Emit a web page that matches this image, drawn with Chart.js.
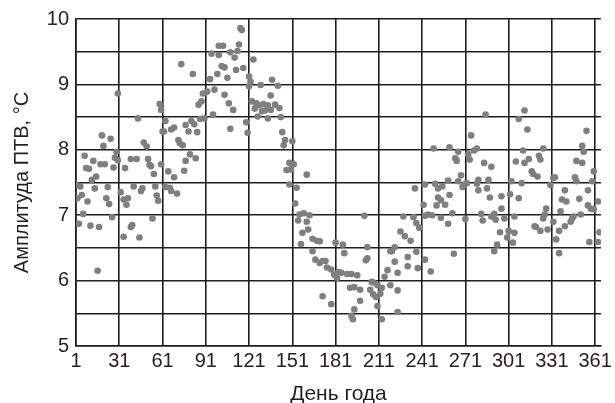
<!DOCTYPE html>
<html>
<head>
<meta charset="utf-8">
<script src="https://cdn.jsdelivr.net/npm/chart.js@4"></script>
<style>
  html, body { margin: 0; padding: 0; background: #fff; }
  #wrap { width: 615px; height: 403px; }
</style>
</head>
<body>
<div id="wrap"><canvas id="ampChart" width="615" height="403"></canvas></div>
<script>
// Day of year and amplitude (°C)
const days = [
    30, 59, 60, 44, 61, 19, 25, 20, 48, 50, 29, 7, 13, 18, 21, 8, 10, 27, 30, 28,
    39, 43, 35, 51, 52, 53, 60, 55, 15, 12, 1, 4, 14, 23, 32, 41, 47, 46, 56, 5,
    2, 22, 34, 37, 9, 24, 36, 57, 58, 6, 26, 3, 11, 17, 54, 39, 40, 34, 45, 16,
    63, 62, 69, 67, 77, 81, 83, 79, 85, 87, 90, 96, 108, 119, 120, 72, 73, 75, 80, 84,
    77, 65, 69, 76, 63, 66, 67, 71, 74, 82, 86, 88, 89, 92, 94, 97, 99, 104, 107, 110,
    106, 102, 104, 112, 117, 100, 103, 95, 100, 108, 111, 114, 113, 115, 116, 121, 122, 123,
    124, 121, 129, 137, 141, 136, 126, 128, 131, 134, 139, 142, 125, 130, 132, 136, 127, 134, 143, 144,
    146, 145, 151, 149, 152, 147, 150, 161, 149, 154, 153, 156, 159, 163, 155, 161, 162, 158, 165, 168,
    170, 157, 165, 167, 170, 172, 174, 175, 178, 181, 180, 172, 178,
    243, 236, 242, 201, 228, 235, 243, 237, 239, 226, 229, 233, 186, 187, 203, 202, 203, 222, 219, 220,
    237, 231, 243, 238, 231, 222, 224, 217, 215, 219, 224, 183, 185, 189, 192, 196, 191, 194, 198, 206,
    207, 210, 205, 207, 209, 213, 212, 198, 194, 192, 193, 210, 213, 224, 182,
    285, 275, 249, 260, 266, 264, 265, 273, 274, 277, 279, 284, 289, 306, 268, 259, 250, 266, 270, 272,
    269, 280, 279, 287, 286, 280, 252, 255, 260, 303, 302, 296, 288, 252, 254, 251, 257, 245, 248, 254,
    262, 259, 271, 282, 283, 289, 291, 292, 296, 298, 301, 300, 295, 304, 293, 291, 263, 247,
    312, 308, 314, 355, 352, 353, 311, 325, 315, 312, 322, 323, 348, 352, 360, 317, 318, 321, 333, 332,
    347, 348, 359, 310, 330, 340, 356, 308, 338, 341, 350, 363, 356, 358, 360, 327, 337, 326, 305, 346,
    351, 345, 344, 325, 332, 340, 319, 323, 320, 328, 336, 305, 334, 364, 357, 363, 336
];
const amplitude = [
    8.86, 8.70, 8.61, 8.48, 8.28, 8.22, 8.17, 8.06, 8.11, 8.05, 7.97, 7.91, 7.83, 7.78, 7.78, 7.72, 7.71, 7.73, 7.84, 7.88,
    7.86, 7.86, 7.72, 7.86, 7.77, 7.75, 7.78, 7.63, 7.59, 7.54, 7.47, 7.44, 7.41, 7.43, 7.35, 7.44, 7.41, 7.37, 7.44, 7.31,
    7.26, 7.26, 7.24, 7.26, 7.21, 7.17, 7.16, 7.30, 7.22, 7.02, 6.97, 6.87, 6.84, 6.82, 6.95, 6.82, 6.85, 6.67, 6.66, 6.15,
    8.44, 8.28, 8.34, 8.31, 8.38, 8.44, 8.39, 8.28, 8.27, 8.47, 8.48, 8.54, 8.32, 8.42, 8.26, 8.15, 8.10, 8.07, 7.93, 7.87,
    7.83, 7.67, 7.58, 7.68, 7.43, 7.42, 7.37, 7.33, 9.31, 9.16, 8.69, 8.74, 8.86, 8.89, 9.08, 8.92, 9.16, 8.84, 8.71, 8.61,
    9.10, 9.28, 9.26, 9.22, 9.25, 9.59, 9.59, 9.47, 9.45, 9.49, 9.41, 9.61, 9.51, 9.86, 9.83, 9.12, 9.04, 8.74,
    9.38, 8.97, 8.99, 9.07, 8.98, 8.83, 8.71, 8.68, 8.70, 8.68, 8.69, 8.64, 8.63, 8.59, 8.60, 8.61, 8.51, 8.48, 8.50, 8.27,
    8.15, 8.07, 8.13, 7.80, 7.78, 7.69, 7.70, 7.62, 7.47, 7.42, 7.18, 7.01, 7.03, 7.00, 6.92, 6.90, 6.78, 6.73, 6.64, 6.61,
    6.60, 6.56, 6.45, 6.32, 6.27, 6.30, 6.30, 6.20, 6.17, 6.58, 6.09, 5.76, 5.64,
    7.47, 7.41, 7.16, 6.99, 6.98, 6.97, 6.99, 6.88, 6.81, 6.75, 6.68, 6.61, 6.55, 6.42, 6.51, 6.31, 6.34, 6.51, 6.45, 6.45,
    6.44, 6.36, 6.32, 6.19, 6.22, 6.29, 6.12, 6.16, 6.06, 5.93, 5.85, 6.13, 6.12, 6.10, 6.10, 6.08, 5.89, 5.90, 5.86, 5.98,
    5.97, 5.93, 5.86, 5.79, 5.75, 5.89, 5.80, 5.69, 5.56, 5.46, 5.41, 5.61, 5.41, 5.52, 6.04,
    8.54, 8.22, 8.02, 8.04, 7.97, 7.87, 7.83, 7.93, 7.85, 7.99, 8.02, 7.80, 7.74, 7.82, 7.61, 7.53, 7.48, 7.52, 7.47, 7.49,
    7.43, 7.54, 7.48, 7.54, 7.41, 7.38, 7.41, 7.44, 7.31, 7.52, 7.32, 7.29, 7.27, 7.27, 7.23, 7.15, 7.16, 7.01, 7.00, 6.96,
    7.03, 6.87, 6.94, 7.02, 6.92, 6.98, 7.02, 6.93, 7.10, 6.95, 6.76, 6.66, 6.74, 6.58, 6.55, 6.45, 6.41, 6.14,
    8.60, 8.47, 8.31, 8.29, 8.06, 7.97, 7.99, 8.02, 7.86, 7.80, 7.91, 7.85, 7.83, 7.80, 7.67, 7.67, 7.63, 7.59, 7.58, 7.57,
    7.58, 7.52, 7.52, 7.49, 7.46, 7.38, 7.38, 7.26, 7.24, 7.21, 7.25, 7.21, 7.15, 7.10, 7.09, 7.10, 7.06, 7.01, 6.98, 6.98,
    7.01, 6.95, 6.90, 6.95, 6.90, 6.83, 6.83, 6.76, 6.82, 6.78, 6.76, 6.73, 6.63, 6.74, 6.59, 6.59, 6.42
];
const xTicks = [1, 31, 61, 91, 121, 151, 181, 211, 241, 271, 301, 331, 361];
const yTicks = [5, 5.5, 6, 6.5, 7, 7.5, 8, 8.5, 9, 9.5, 10];

const gridColor = '#1e1e1e';
const textColor = '#231f20';
const fontFamily = '"Liberation Sans", Arial, sans-serif';

const points = days.map((d, i) => ({ x: d, y: amplitude[i] }));

const ctx = document.getElementById('ampChart').getContext('2d');
new Chart(ctx, {
    type: 'scatter',
    data: {
        datasets: [{
            data: points,
            backgroundColor: '#7f7f7f',
            borderWidth: 0,
            pointRadius: 3.3
        }]
    },
    options: {
        responsive: false,
        animation: false,
        layout: { padding: { top: 19, right: 13, left: 0, bottom: 0 } },
        plugins: {
            legend: { display: false },
            tooltip: { enabled: false }
        },
        scales: {
            x: {
                type: 'linear',
                min: 1,
                max: 365,
                afterBuildTicks: s => { s.ticks = xTicks.map(v => ({ value: v })); },
                afterFit: s => { s.height = 57; },
                grid: { color: gridColor, lineWidth: 1.6, drawTicks: false },
                border: { color: gridColor, width: 1.6 },
                ticks: {
                    color: textColor,
                    padding: 3,
                    maxRotation: 0,
                    autoSkip: false,
                    font: { family: fontFamily, size: 20 }
                },
                title: {
                    display: true,
                    text: 'День года',
                    color: textColor,
                    padding: { top: 0, bottom: -4 },
                    font: { family: fontFamily, size: 21 }
                }
            },
            y: {
                min: 5,
                max: 10,
                afterBuildTicks: s => { s.ticks = yTicks.map(v => ({ value: v })); },
                afterFit: s => { s.width = 76; },
                grid: { color: gridColor, lineWidth: 1.6, drawTicks: false },
                border: { color: gridColor, width: 1.6 },
                ticks: {
                    color: textColor,
                    padding: 7,
                    autoSkip: false,
                    font: { family: fontFamily, size: 20 },
                    callback: v => Number.isInteger(v) ? String(v) : ''
                },
                title: {
                    display: true,
                    text: 'Амплитуда ПТВ, °C',
                    color: textColor,
                    padding: { top: 10.5, bottom: 0 },
                    font: { family: fontFamily, size: 20 }
                }
            }
        }
    }
});
</script>
</body>
</html>
